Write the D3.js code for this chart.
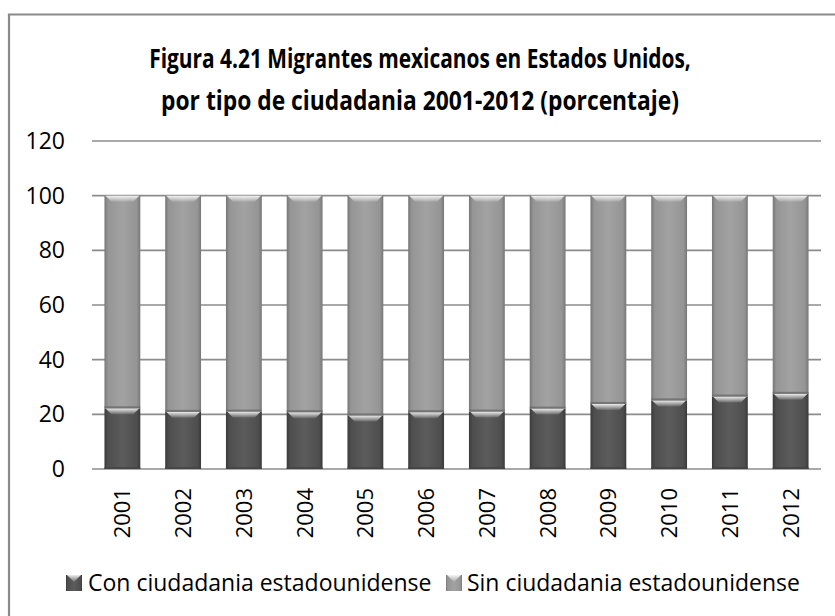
<!DOCTYPE html>
<html>
<head>
<meta charset="utf-8">
<script src="https://cdn.jsdelivr.net/npm/d3@7"></script>
<style>
  html, body { margin: 0; padding: 0; background: #fff; }
  svg { display: block; }
  text { font-family: "Open Sans", "Noto Sans", sans-serif; fill: #000; }
</style>
</head>
<body>
<div id="chart"></div>
<script>
// Migrantes mexicanos en EE.UU. por tipo de ciudadania (%)
const years = ["2001", "2002", "2003", "2004", "2005", "2006",
               "2007", "2008", "2009", "2010", "2011", "2012"];
const conCiudadania = [22.2, 20.9, 21.0, 20.8, 19.6, 20.8, 21.0, 22.1, 23.8, 25.1, 26.5, 27.5];
const sinCiudadania = [77.8, 79.1, 79.0, 79.2, 80.4, 79.2, 79.0, 77.9, 76.2, 74.9, 73.5, 72.5];
const yTicks = [0, 20, 40, 60, 80, 100, 120];
const seriesNames = ["Con ciudadania estadounidense", "Sin ciudadania estadounidense"];
const titleLines = ["Figura 4.21 Migrantes mexicanos en Estados Unidos,",
                    "por tipo de ciudadania 2001-2012 (porcentaje)"];

const width = 835, height = 616;

const svg = d3.select("#chart").append("svg")
    .attr("width", width)
    .attr("height", height);

const defs = svg.append("defs");

// squeeze a text horizontally so it spans `len` pixels (Calibri-ish look)
function squeeze(sel, len, anchorX) {
    const w = sel.node().getComputedTextLength();
    const k = Math.min(1, len / w);
    sel.attr("transform", `translate(${anchorX},0) scale(${k},1) translate(${-anchorX},0)`);
}

// bevel-ish shading for each series
const palette = [
    { key: "con", edge: "#3a3a3a", mid: "#5c5c5c", side: "#4e4e4e" },
    { key: "sin", edge: "#777777", mid: "#a2a2a2", side: "#959595" }
];
palette.forEach(p => {
    const g = defs.append("linearGradient").attr("id", "h-" + p.key)
        .attr("x1", "0").attr("x2", "1").attr("y1", "0").attr("y2", "0");
    g.append("stop").attr("offset", "0%").attr("stop-color", p.edge);
    g.append("stop").attr("offset", "10%").attr("stop-color", p.side);
    g.append("stop").attr("offset", "50%").attr("stop-color", p.mid);
    g.append("stop").attr("offset", "90%").attr("stop-color", p.side);
    g.append("stop").attr("offset", "100%").attr("stop-color", p.edge);
});
const hl = defs.append("linearGradient").attr("id", "bevel")
    .attr("x1", "0").attr("x2", "0").attr("y1", "0").attr("y2", "1");
hl.append("stop").attr("offset", "0%").attr("stop-color", "#fff").attr("stop-opacity", 0.9);
hl.append("stop").attr("offset", "100%").attr("stop-color", "#fff").attr("stop-opacity", 0.1);

// chart frame
svg.append("path")
    .attr("d", "M9,640 V14.5 H860")
    .attr("fill", "none")
    .attr("stroke", "#8a8a8a")
    .attr("stroke-width", 2.2);

// title
titleLines.forEach((t, i) => {
    const line = svg.append("text")
        .attr("x", 420)
        .attr("y", 68 + i * 42)
        .attr("text-anchor", "middle")
        .style("font-weight", "bold")
        .style("font-size", "27px")
        .text(t);
    squeeze(line, i === 0 ? 542 : 518, 420);
});

const x = d3.scaleBand()
    .domain(years)
    .range([92, 821])
    .paddingInner(0.41)
    .paddingOuter(0.205);

const y = d3.scaleLinear()
    .domain([0, 120])
    .range([469, 141]);

// gridlines
svg.append("g")
    .selectAll("line")
    .data(yTicks)
    .join("line")
    .attr("x1", 92).attr("x2", 821)
    .attr("y1", d => y(d)).attr("y2", d => y(d))
    .attr("stroke", "#8c8c8c")
    .attr("stroke-width", 1.6);

// y axis labels
const yAxis = svg.append("g")
    .attr("transform", "translate(65,0)")
    .call(d3.axisLeft(y).tickValues(yTicks).tickSize(0).tickPadding(0));
yAxis.select(".domain").remove();
yAxis.selectAll("text")
    .style("font-size", "23px")
    .style("font-family", "'Open Sans', sans-serif")
    .attr("fill", "#000");

// stacked bars
const table = years.map((yr, i) => ({ year: yr, con: conCiudadania[i], sin: sinCiudadania[i] }));
const stack = d3.stack().keys(["con", "sin"])(table);

const bw = x.bandwidth();
const bevel = 6;

stack.forEach(layer => {
    const key = layer.key;
    const g = svg.append("g");
    const seg = g.selectAll("g")
        .data(layer)
        .join("g");

    seg.append("rect")
        .attr("x", d => x(d.data.year))
        .attr("y", d => y(d[1]))
        .attr("width", bw)
        .attr("height", d => y(d[0]) - y(d[1]))
        .attr("fill", "url(#h-" + key + ")");

    // top highlight (bevel)
    seg.append("path")
        .attr("d", d => {
            const x0 = x(d.data.year), x1 = x0 + bw, t = y(d[1]);
            return `M${x0 + 1},${t} H${x1 - 1} L${x1 - bevel - 1},${t + bevel} H${x0 + bevel + 1} Z`;
        })
        .attr("fill", "url(#bevel)");

    // darker bottom edge
    seg.append("rect")
        .attr("x", d => x(d.data.year))
        .attr("y", d => y(d[0]) - 2)
        .attr("width", bw)
        .attr("height", 2)
        .attr("fill", key === "con" ? "#444" : "#6a6a6a")
        .attr("opacity", 0.8);
});

// x labels rotated
svg.append("g")
    .selectAll("text")
    .data(years)
    .join("text")
    .attr("transform", d => `translate(${x(d) + bw / 2 + 8},488) rotate(-90)`)
    .attr("text-anchor", "end")
    .style("font-size", "22px")
    .text(d => d);

// legend
const legend = svg.append("g");
const legendItems = [
    { name: seriesNames[0], key: "con", sx: 66, tx: 88, len: 344 },
    { name: seriesNames[1], key: "sin", sx: 446, tx: 467, len: 333 }
];
legendItems.forEach(it => {
    legend.append("rect")
        .attr("x", it.sx).attr("y", 575)
        .attr("width", 16).attr("height", 16)
        .attr("fill", "url(#h-" + it.key + ")");
    legend.append("path")
        .attr("d", `M${it.sx + 1},575 H${it.sx + 15} L${it.sx + 8},582 Z`)
        .attr("fill", "url(#bevel)");
    const t = legend.append("text")
        .attr("x", it.tx).attr("y", 591)
        .style("font-size", "23px")
        .text(it.name);
    squeeze(t, it.len, it.tx);
});
</script>
</body>
</html>
